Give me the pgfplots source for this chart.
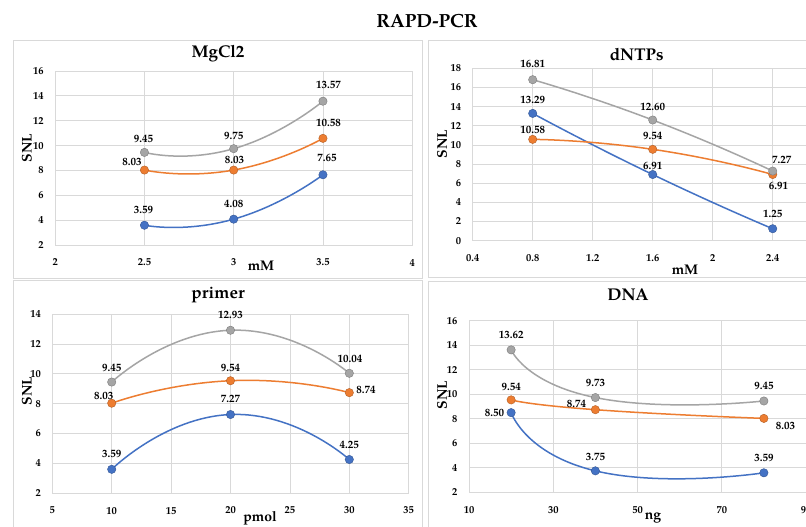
\documentclass[border=0pt]{standalone}
\usepackage{fontspec}
\setmainfont{TeX Gyre Pagella}
\usepackage{pgfplots}
\usepackage{pgfplotstable}
\pgfplotsset{compat=1.18}

\definecolor{sblue}{HTML}{4472C4}
\definecolor{sorange}{HTML}{ED7D31}
\definecolor{sgrey}{HTML}{A5A5A5}
\definecolor{gridc}{HTML}{D9D9D9}

\newcommand\tickf{\bfseries\fontsize{10.5}{12}\selectfont}
\newcommand\lblf{\bfseries\fontsize{11}{13}\selectfont}
\newcommand\axf{\bfseries\fontsize{14}{16}\selectfont}
\newcommand\ttlf{\bfseries\fontsize{17}{20}\selectfont}

% x  y  label  label offset (dx dy, pt)
\pgfplotstableread{
x y lab dx dy
2.5 3.59 3.59 -1 15.5
3 4.08 4.08 0 15
3.5 7.65 7.65 4 16.5
}\mgB
\pgfplotstableread{
x y lab dx dy
2.5 8.03 8.03 -12.5 7.7
3 8.03 8.03 0.7 10
3.5 10.58 10.58 5.5 15.5
}\mgO
\pgfplotstableread{
x y lab dx dy
2.5 9.45 9.45 -1 13.3
3 9.75 9.75 0 12.5
3.5 13.57 13.57 5.5 16
}\mgG

\pgfplotstableread{
x y lab dx dy
0.8 13.29 13.29 0 13.3
1.6 6.91 6.91 0 9
2.4 1.25 1.25 0 15
}\dnB
\pgfplotstableread{
x y lab dx dy
0.8 10.58 10.58 0 9.7
1.6 9.54 9.54 0 13
2.4 6.91 6.91 5.7 -11.3
}\dnO
\pgfplotstableread{
x y lab dx dy
0.8 16.81 16.81 0 15.5
1.6 12.60 12.60 0 13.3
2.4 7.27 7.27 9 10.7
}\dnG

\pgfplotstableread{
x y lab dx dy
10 3.59 3.59 0 15
20 7.27 7.27 0 15.5
30 4.25 4.25 0 15
}\prB
\pgfplotstableread{
x y lab dx dy
10 8.03 8.03 -8 7.7
20 9.54 9.54 0 13
30 8.74 8.74 16.7 2.7
}\prO
\pgfplotstableread{
x y lab dx dy
10 9.45 9.45 0 14
20 12.93 12.93 0 15.5
30 10.04 10.04 0.7 14.3
}\prG

\pgfplotstableread{
x y lab dx dy
20 8.50 8.50 -16.7 -0.7
40 3.75 3.75 0 14.3
80 3.59 3.59 0 14.7
}\naB
\pgfplotstableread{
x y lab dx dy
20 9.54 9.54 0 13.3
40 8.74 8.74 -19 5.7
80 8.03 8.03 21.7 -7.3
}\naO
\pgfplotstableread{
x y lab dx dy
20 13.62 13.62 0 15
40 9.73 9.73 0 14.7
80 9.45 9.45 0 14.7
}\naG

\pgfplotsset{
  panel/.style={
    scale only axis, anchor=south west, clip=false,
    axis line style={draw=gridc, line width=0.8pt},
    grid=major, major grid style={draw=gridc, line width=0.8pt},
    major tick length=0pt, tick style={draw=none},
    ticklabel style={font=\tickf},
    /pgf/number format/assume math mode=true,
    xticklabel style={yshift=-10.5pt},
    yticklabel style={xshift=-8pt},
  },
  ser/.style={
    line width=1.5pt, color=#1, smooth, tension=1, mark=*, mark size=4.2pt,
    mark options={fill=#1, draw=#1!75!black, line width=0.4pt},
    nodes near coords, point meta=explicit symbolic,
    nodes near coords align={center},
    visualization depends on={\thisrow{dx}\as\ldx},
    visualization depends on={\thisrow{dy}\as\ldy},
    every node near coord/.append style={anchor=center, xshift=\ldx pt,
      yshift=\ldy pt, text=black, font=\lblf, inner sep=0pt},
  },
}

\begin{document}
\begin{tikzpicture}
\path[use as bounding box, fill=white] (0pt,0pt) rectangle (806pt,-527pt);

% panel frames
\draw[gridc, line width=0.8pt] (13.5pt,-40pt) rectangle (422pt,-278.5pt);
\draw[gridc, line width=0.8pt] (428pt,-40pt) rectangle (812pt,-277.5pt);
\draw[gridc, line width=0.8pt] (13.5pt,-280.5pt) rectangle (422pt,-532pt);
\draw[gridc, line width=0.8pt] (428pt,-281pt) rectangle (812pt,-532pt);

\node[font=\bfseries\fontsize{19}{22}\selectfont] at (427pt,-21pt) {RAPD-PCR};

% MgCl2
\begin{axis}[panel, at={(55.2pt,-245pt)}, width=357pt, height=174pt,
  xmin=2, xmax=4, ymin=2, ymax=16,
  xtick={2,2.5,3,3.5,4}, ytick={2,4,...,16}]
  \addplot[ser=sblue] table[x=x, y=y, meta=lab] {\mgB};
  \addplot[ser=sorange] table[x=x, y=y, meta=lab] {\mgO};
  \addplot[ser=sgrey] table[x=x, y=y, meta=lab] {\mgG};
\end{axis}
\node[font=\ttlf] at (218pt,-54pt) {MgCl2};
\node[font=\axf, rotate=90] at (27pt,-148pt) {SNL};
\node[font=\axf] at (261pt,-266pt) {mM};

% dNTPs
\begin{axis}[panel, at={(472.7pt,-240.7pt)}, width=360pt, height=172.4pt,
  xmin=0.4, xmax=2.8, ymin=0, ymax=18,
  xtick={0.4,0.8,1.2,1.6,2,2.4}, ytick={0,2,...,18},
  extra x ticks={2.8}, extra x tick labels={}]
  \addplot[ser=sblue] table[x=x, y=y, meta=lab] {\dnB};
  \addplot[ser=sorange] table[x=x, y=y, meta=lab] {\dnO};
  \addplot[ser=sgrey] table[x=x, y=y, meta=lab] {\dnG};
\end{axis}
\node[font=\ttlf] at (636.7pt,-55pt) {dNTPs};
\node[font=\axf, rotate=90] at (442pt,-144pt) {SNL};
\node[font=\axf] at (685pt,-270pt) {mM};

% primer
\begin{axis}[panel, at={(52.3pt,-493pt)}, width=356.4pt, height=178.7pt,
  xmin=5, xmax=35, ymin=2, ymax=14,
  xtick={5,10,...,35}, ytick={2,4,...,14}]
  \addplot[ser=sblue] table[x=x, y=y, meta=lab] {\prB};
  \addplot[ser=sorange] table[x=x, y=y, meta=lab] {\prO};
  \addplot[ser=sgrey] table[x=x, y=y, meta=lab] {\prG};
\end{axis}
\node[font=\ttlf] at (218pt,-295pt) {primer};
\node[font=\axf, rotate=90] at (27pt,-391pt) {SNL};
\node[font=\axf] at (260pt,-518pt) {pmol};

% DNA
\begin{axis}[panel, at={(469pt,-492.3pt)}, width=337pt, height=171.6pt,
  xmin=10, xmax=90, ymin=2, ymax=16,
  xtick={10,30,50,70,90}, ytick={2,4,...,16}]
  \addplot[ser=sblue] table[x=x, y=y, meta=lab] {\naB};
  \addplot[ser=sorange] table[x=x, y=y, meta=lab] {\naO};
  \addplot[ser=sgrey] table[x=x, y=y, meta=lab] {\naG};
\end{axis}
\node[font=\ttlf] at (628pt,-295pt) {DNA};
\node[font=\axf, rotate=90] at (442pt,-395pt) {SNL};
\node[font=\axf] at (653pt,-518pt) {ng};
\end{tikzpicture}
\end{document}
